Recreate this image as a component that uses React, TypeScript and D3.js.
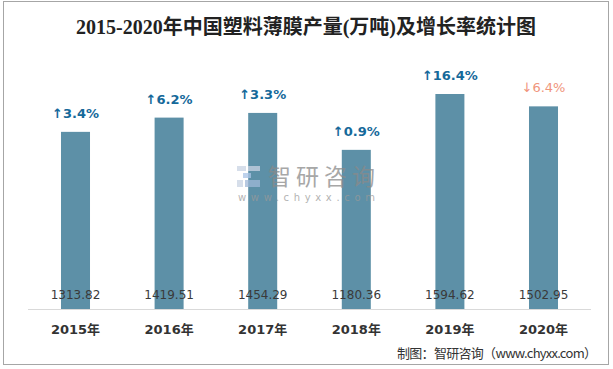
import React from 'react';
import * as d3 from 'd3';

const years = ['2015年', '2016年', '2017年', '2018年', '2019年', '2020年'];
const output = [1313.82, 1419.51, 1454.29, 1180.36, 1594.62, 1502.95];
const growth = [3.4, 6.2, 3.3, 0.9, 16.4, -6.4];

const W = 613;
const H = 369;
const baseY = 309;

const App = () => {
  // x 轴分组
  const x = d3.scaleBand().domain(years).range([28.7, 590.3]).paddingInner(0.69).paddingOuter(0.345);
  const y = d3.scaleLinear().domain([0, 1594.62]).range([baseY, 94]);
  const fmt = d3.format('.2f');

  return (
    <svg width={W} height={H} style={{ position: 'absolute', left: 0, top: 0 }}>
      <rect x={0} y={0} width={W} height={H} fill="#fff" />
      <rect x={3.5} y={1.5} width={605} height={363} fill="none" stroke="#a6a6a6" strokeWidth={1} />

      <text x={306} y={34} textAnchor="middle" fontSize={20} fontWeight={600}
        fontFamily="'Liberation Serif', 'DejaVu Serif', 'Noto Sans CJK SC'" fill="#222">
        2015-2020年中国塑料薄膜产量(万吨)及增长率统计图
      </text>

      {/* 柱子 */}
      {years.map((yr, i) => (
        <rect key={yr} x={x(yr)} y={y(output[i])} width={x.bandwidth()} height={baseY - y(output[i])}
          fill="#5d90a7" />
      ))}

      {/* 水印 */}
      <g opacity={0.75}>
        <rect x={237} y={166} width={9} height={5} fill="#c9d3e4" />
        <rect x={248} y={166} width={12} height={5} fill="#c9d3e4" />
        <rect x={243} y={173} width={8} height={5} fill="#a9c4e6" />
        <rect x={237} y={180} width={6} height={7} fill="#c9d3e4" />
        <rect x={245} y={180} width={15} height={7} fill="#9fb8d8" />
        <text x={268} y={185} fontSize={23} fontFamily="'Noto Sans CJK SC'" fill="#8a8a8a" textLength={107}>智研咨询</text>
        <text x={238} y={201} fontSize={10} fontFamily="'DejaVu Sans'" fill="#9a9a9a" textLength={137} lengthAdjust="spacing">www.chyxx.com</text>
      </g>

      {/* 数值 */}
      {years.map((yr, i) => (
        <text key={yr} x={(x(yr) as number) + x.bandwidth() / 2} y={299} textAnchor="middle" fontSize={12}
          fontFamily="'DejaVu Sans', 'Noto Sans CJK SC'" fill="#3a3a3a">
          {fmt(output[i])}
        </text>
      ))}

      {/* 增长率 */}
      {years.map((yr, i) => {
        const up = growth[i] >= 0;
        return (
          <text key={yr} x={(x(yr) as number) + x.bandwidth() / 2} y={y(output[i]) - 14} textAnchor="middle"
            fontSize={13} fontWeight={up ? 'bold' : 'normal'} fontFamily="'DejaVu Sans', 'Noto Sans CJK SC'"
            fill={up ? '#16699a' : '#f0957c'}>
            {(up ? '↑' : '↓') + Math.abs(growth[i]).toFixed(1) + '%'}
          </text>
        );
      })}

      {/* 轴线 */}
      <line x1={28} x2={591} y1={baseY + 0.5} y2={baseY + 0.5} stroke="#d9d9d9" strokeWidth={1} />
      {years.map((yr) => (
        <text key={yr} x={(x(yr) as number) + x.bandwidth() / 2} y={334} textAnchor="middle" fontSize={13}
          fontWeight="bold" fontFamily="'DejaVu Sans', 'Noto Sans CJK SC'" fill="#333">
          {yr}
        </text>
      ))}

      <text x={597} y={358} textAnchor="end" fontSize={13} fontFamily="'Noto Sans CJK SC'" fill="#333"
        textLength={200} lengthAdjust="spacing">
        制图：智研咨询（www.chyxx.com）
      </text>
    </svg>
  );
};

export default App;
